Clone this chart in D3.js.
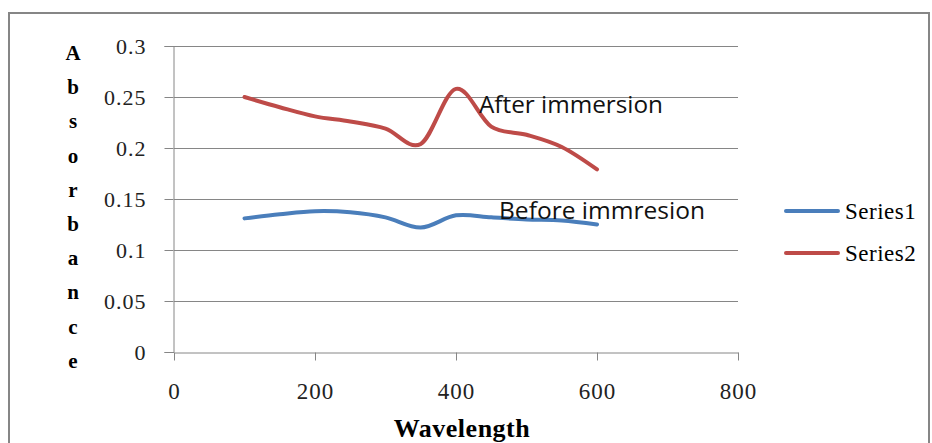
<!DOCTYPE html>
<html>
<head>
<meta charset="utf-8">
<script src="https://cdn.jsdelivr.net/npm/d3@7"></script>
<style>
  body { margin: 0; background: #fff; }
  svg { display: block; }
</style>
</head>
<body>
<svg id="chart" width="932" height="443"></svg>
<script>
// Wavelength sample points shared by both series
const wavelengths = [100, 150, 200, 250, 300, 350, 400, 450, 500, 550, 600];
// Series1 - before immersion
const series1 = [0.131, 0.135, 0.138, 0.137, 0.132, 0.122, 0.134, 0.132, 0.130, 0.129, 0.125];
// Series2 - after immersion
const series2 = [0.250, 0.240, 0.231, 0.226, 0.219, 0.204, 0.258, 0.221, 0.213, 0.201, 0.179];

const seriesNames = ["Series1", "Series2"];
const seriesColors = ["#4a7ebb", "#be4b48"];
const xTicks = [0, 200, 400, 600, 800];
const yTicks = [0, 0.05, 0.1, 0.15, 0.2, 0.25, 0.3];
const yTitle = "Absorbance";
const xTitle = "Wavelength";

const svg = d3.select("#chart");

// outer chart border
svg.append("rect")
    .attr("x", 9).attr("y", 13)
    .attr("width", 920).attr("height", 445)
    .attr("fill", "none")
    .attr("stroke", "#868686")
    .attr("stroke-width", 2);

const x = d3.scaleLinear().domain([0, 800]).range([174, 738]);
const y = d3.scaleLinear().domain([0, 0.3]).range([352, 46]);

const serif = "'Liberation Serif', 'Times New Roman', serif";

// gridlines
svg.append("g")
    .selectAll("line")
    .data(yTicks.filter(d => d > 0))
    .enter()
    .append("line")
    .attr("x1", x(0)).attr("x2", x(800))
    .attr("y1", d => Math.round(y(d)) + 0.5)
    .attr("y2", d => Math.round(y(d)) + 0.5)
    .attr("stroke", "#868686")
    .attr("stroke-width", 1);

// y axis
const yAxis = svg.append("g")
    .attr("transform", "translate(" + (x(0) - 0.5) + ",0)")
    .call(d3.axisLeft(y).tickValues(yTicks).tickSize(9).tickPadding(18)
        .tickFormat(d => d3.format("")(+d.toFixed(2))));
yAxis.selectAll("line, path").attr("stroke", "#868686");
yAxis.selectAll("text")
    .style("font-family", serif)
    .style("font-size", "22px")
    .style("letter-spacing", "1px")
    .attr("fill", "#222");

// x axis
const xAxis = svg.append("g")
    .attr("transform", "translate(0," + (Math.round(y(0)) + 0.5) + ")")
    .call(d3.axisBottom(x).tickValues(xTicks).tickSize(8).tickPadding(22).tickSizeOuter(0));
xAxis.selectAll("line, path").attr("stroke", "#868686");
xAxis.selectAll("text")
    .style("font-family", serif)
    .style("font-size", "23px")
    .style("letter-spacing", "1px")
    .attr("fill", "#222");

// stacked y-axis title
svg.append("g")
    .selectAll("text")
    .data(yTitle.split(""))
    .enter()
    .append("text")
    .attr("x", 73)
    .attr("y", (d, i) => 60 + i * 34.2)
    .attr("text-anchor", "middle")
    .style("font-family", serif)
    .style("font-weight", "bold")
    .style("font-size", "21px")
    .text(d => d);

svg.append("text")
    .attr("x", 462).attr("y", 437)
    .attr("text-anchor", "middle")
    .style("font-family", serif)
    .style("font-weight", "bold")
    .style("font-size", "26px")
    .style("letter-spacing", "0.5px")
    .text(xTitle);

// series lines
const line = d3.line()
    .x((d, i) => x(wavelengths[i]))
    .y(d => y(d))
    .curve(d3.curveCatmullRom.alpha(0));

[series1, series2].forEach((s, i) => {
    svg.append("path")
        .datum(s)
        .attr("d", line)
        .attr("fill", "none")
        .attr("stroke", seriesColors[i])
        .attr("stroke-width", 4)
        .attr("stroke-linecap", "round");
});

// annotations
svg.append("text")
    .attr("x", 479).attr("y", 113)
    .attr("textLength", 184)
    .attr("lengthAdjust", "spacingAndGlyphs")
    .style("font-family", "'Open Sans', sans-serif")
    .style("font-size", "24px")
    .attr("fill", "#111")
    .text("After immersion");

svg.append("text")
    .attr("x", 499).attr("y", 219)
    .attr("textLength", 206)
    .attr("lengthAdjust", "spacingAndGlyphs")
    .style("font-family", "'Open Sans', sans-serif")
    .style("font-size", "24px")
    .attr("fill", "#111")
    .text("Before immresion");

// legend
const legend = svg.append("g")
    .selectAll("g")
    .data(seriesNames)
    .enter()
    .append("g")
    .attr("transform", (d, i) => "translate(786," + (211 + i * 42) + ")");

legend.append("line")
    .attr("x1", 0).attr("x2", 52)
    .attr("stroke", (d, i) => seriesColors[i])
    .attr("stroke-width", 4)
    .attr("stroke-linecap", "round");

legend.append("text")
    .attr("x", 59).attr("y", 8)
    .style("font-family", serif)
    .style("font-size", "23px")
    .style("letter-spacing", "0.5px")
    .text(d => d);
</script>
</body>
</html>
